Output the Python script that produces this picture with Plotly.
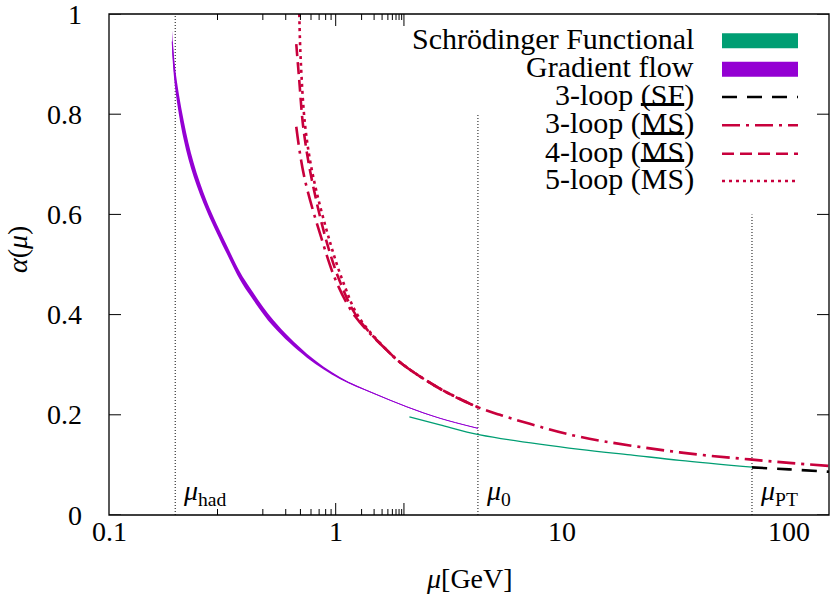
import numpy as np
import plotly.graph_objects as go

# gradient flow (purple band), mu in GeV
gf_mu = [0.190, 0.196, 0.2136, 0.2363, 0.2708, 0.3317, 0.3796, 0.4201, 0.532, 0.7465, 1.047, 1.467, 2.059, 2.886, 4.24]
gf_alpha = [0.945, 0.870, 0.768, 0.689, 0.615, 0.529, 0.476, 0.445, 0.382, 0.318, 0.273, 0.243, 0.216, 0.193, 0.173]
gf_err = [0.022, 0.020, 0.019, 0.014, 0.010, 0.0085, 0.008, 0.0075, 0.0065, 0.004, 0.002, 0.001, 0.0007, 0.0005, 0.0005]

# Schroedinger functional (green)
sf_mu = [2.114, 2.886, 4.33, 11.94, 20.0, 32.9, 68.6]
sf_alpha = [0.196, 0.180, 0.160, 0.131, 0.120, 0.109, 0.0954]

# 3-loop SF perturbative (black dashed)
pt_mu = [68.6, 100.0, 150.0]
pt_alpha = [0.095, 0.0910, 0.0864]

# MSbar running
ms3_mu = [0.670, 0.7265, 0.878, 1.012, 1.22, 1.681, 1.984, 2.886, 4.188, 5.305, 7.18, 11.94, 32.9, 67.0, 100.0, 150.0]
ms3_alpha = [0.775, 0.675, 0.543, 0.463, 0.396, 0.329, 0.300, 0.252, 0.216, 0.200, 0.182, 0.156, 0.125, 0.111, 0.104, 0.098]
ms4_mu = [0.670, 0.690, 0.719, 0.780, 0.915, 1.05, 1.24, 1.681, 1.984, 2.886, 4.24]
ms4_alpha = [0.940, 0.870, 0.775, 0.675, 0.543, 0.463, 0.396, 0.329, 0.300, 0.252, 0.215]
ms5_mu = [0.691, 0.701, 0.734, 0.796, 0.946, 1.083, 1.26, 1.681, 1.984, 2.886, 4.24]
ms5_alpha = [1.0, 0.908, 0.775, 0.675, 0.543, 0.463, 0.396, 0.329, 0.300, 0.252, 0.215]

# scale markers
mark_mu = [0.196, 4.24, 68.6]
mark_top = [1.0, 0.8, 0.6]
mark_text = ["<i>μ</i><sub>had</sub>", "<i>μ</i><sub>0</sub>", "<i>μ</i><sub>PT</sub>"]

# axis ticks
x_ticks = [0.1, 1, 10, 100]
x_ticktext = ["0.1", "1", "10", "100"]
x_minor = [k * 10.0 ** e for e in (-1, 0, 1) for k in range(2, 10)]
y_ticks = [0, 0.2, 0.4, 0.6, 0.8, 1]
y_ticktext = ["0", "0.2", "0.4", "0.6", "0.8", "1"]

legend_text = ["Schrödinger Functional", "Gradient flow", "3-loop (SF)",
               "3-loop (<span style='text-decoration:overline'>MS</span>)",
               "4-loop (<span style='text-decoration:overline'>MS</span>)",
               "5-loop (<span style='text-decoration:overline'>MS</span>)"]

PURPLE = "#9400d3"
GREEN = "#009e73"
CRIMSON = "#c8003c"
FONT = "Liberation Serif"
FS = 28

W, H = 830, 595
L, R, T, B = 109, 1, 14, 80
pw, ph = W - L - R, H - T - B


def px(x):
    return (x - L) / pw


def py(y):
    return (H - B - y) / ph


fig = go.Figure()

for m, t in zip(mark_mu, mark_top):
    fig.add_trace(go.Scatter(x=[m, m], y=[0, t], mode="lines",
                             line=dict(color="#333333", width=1.2, dash="1px,2px"),
                             hoverinfo="skip"))

ga = np.array(gf_alpha)
ge = np.array(gf_err)
fig.add_trace(go.Scatter(x=gf_mu, y=ga - ge, mode="lines", line=dict(width=0, shape="spline"),
                         hoverinfo="skip"))
fig.add_trace(go.Scatter(x=gf_mu, y=ga + ge, mode="lines", line=dict(width=0, shape="spline"),
                         fill="tonexty", fillcolor=PURPLE, hoverinfo="skip"))
fig.add_trace(go.Scatter(x=gf_mu, y=gf_alpha, mode="lines",
                         line=dict(color=PURPLE, width=1, shape="spline")))

fig.add_trace(go.Scatter(x=sf_mu, y=sf_alpha, mode="lines",
                         line=dict(color=GREEN, width=1.3, shape="spline")))
fig.add_trace(go.Scatter(x=pt_mu, y=pt_alpha, mode="lines",
                         line=dict(color="black", width=2.6, dash="15px,10px", shape="spline")))

fig.add_trace(go.Scatter(x=ms5_mu, y=ms5_alpha, mode="lines",
                         line=dict(color=CRIMSON, width=2.6, dash="3px,4px", shape="spline")))
fig.add_trace(go.Scatter(x=ms4_mu, y=ms4_alpha, mode="lines",
                         line=dict(color=CRIMSON, width=2.6, dash="12px,6px", shape="spline")))
fig.add_trace(go.Scatter(x=ms3_mu, y=ms3_alpha, mode="lines",
                         line=dict(color=CRIMSON, width=2.6, dash="18px,6px,3px,6px", shape="spline")))

tfont = dict(family=FONT, size=FS, color="black")
annotations = []
for m, t in zip(mark_mu, mark_text):
    annotations.append(dict(x=np.log10(m), y=0.045, xref="x", yref="y", text=t, showarrow=False,
                            xanchor="left", yanchor="middle", xshift=6, font=tfont))

# tick labels placed by hand (gnuplot spacing)
for v, t in zip(y_ticks, y_ticktext):
    annotations.append(dict(x=px(84), y=v, xref="paper", yref="y", text=t, showarrow=False,
                            xanchor="right", yanchor="middle", font=tfont))
for v, t in zip(x_ticks, x_ticktext):
    annotations.append(dict(x=np.log10(v), y=py(531), xref="x", yref="paper", text=t, showarrow=False,
                            xanchor="center", yanchor="middle", font=tfont))

shapes = [dict(type="rect", xref="paper", yref="paper", x0=0, x1=1, y0=0, y1=1,
               line=dict(color="black", width=1.3), layer="above")]

# inward ticks on all four sides (mirrored like gnuplot)
tick_line = dict(color="black", width=1)
for vals, ln in ((x_ticks, 12), (x_minor, 6)):
    for v in vals:
        for y0, y1 in ((0, ln / ph), (1, 1 - ln / ph)):
            shapes.append(dict(type="line", xref="x", yref="paper", x0=np.log10(v), x1=np.log10(v),
                               y0=y0, y1=y1, line=tick_line, layer="above"))
for v in y_ticks:
    for x0_, x1_ in ((0, 12 / pw), (1, 1 - 12 / pw)):
        shapes.append(dict(type="line", xref="paper", yref="y", x0=x0_, x1=x1_, y0=v, y1=v,
                           line=tick_line, layer="above"))

# legend drawn by hand (gnuplot style: text right, sample on the right)
rows_y = [38.3, 66.7, 95.0, 123.3, 151.7, 179.0]
for txt, yy in zip(legend_text, rows_y):
    annotations.append(dict(x=px(696), y=py(yy), xref="paper", yref="paper", text=txt,
                            showarrow=False, xanchor="right", yanchor="middle",
                            font=dict(family=FONT, size=30, color="black")))
x0, x1 = px(722), px(798)
shapes.append(dict(type="rect", xref="paper", yref="paper", x0=x0, x1=x1,
                   y0=py(rows_y[0] + 10), y1=py(rows_y[0] - 5), fillcolor=GREEN, line=dict(width=0)))
shapes.append(dict(type="rect", xref="paper", yref="paper", x0=x0, x1=x1,
                   y0=py(rows_y[1] + 10), y1=py(rows_y[1] - 5), fillcolor=PURPLE, line=dict(width=0)))
styles = [("black", "15px,10px"), (CRIMSON, "18px,6px,3px,6px"), (CRIMSON, "12px,6px"), (CRIMSON, "3px,4px")]
for (c, d), yy in zip(styles, rows_y[2:]):
    shapes.append(dict(type="line", xref="paper", yref="paper", x0=x0, x1=x1,
                       y0=py(yy + 2), y1=py(yy + 2), line=dict(color=c, width=2.6, dash=d)))

annotations.append(dict(x=px(469), y=py(578), xref="paper", yref="paper", text="<i>μ</i>[GeV]",
                        showarrow=False, xanchor="center", yanchor="middle", font=tfont))
annotations.append(dict(x=px(17), y=py(250), xref="paper", yref="paper", text="<i>α</i>(<i>μ</i>)",
                        showarrow=False, xanchor="center", yanchor="middle", textangle=-90,
                        font=tfont))

fig.update_layout(
    width=W, height=H,
    margin=dict(l=L, r=R, t=T, b=B),
    paper_bgcolor="white", plot_bgcolor="white",
    showlegend=False,
    font=tfont,
    annotations=annotations,
    shapes=shapes,
    xaxis=dict(type="log", range=[-1, np.log10(150)], showgrid=False, zeroline=False,
               showline=False, ticks="", showticklabels=False),
    yaxis=dict(range=[0, 1], showgrid=False, zeroline=False,
               showline=False, ticks="", showticklabels=False),
)

fig.write_html("out.html", config={"displayModeBar": False},
               post_script="document.body.style.margin='0';")
